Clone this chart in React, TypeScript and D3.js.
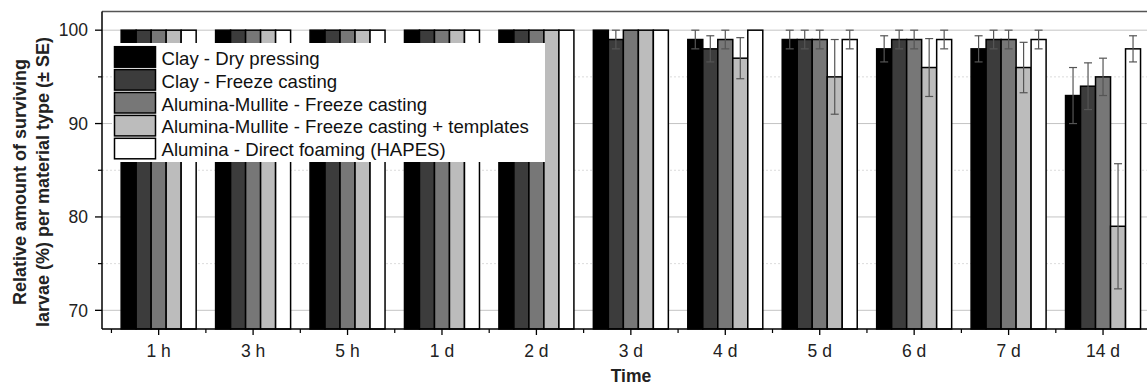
import React from 'react';
import * as d3 from 'd3';

const categories = ['1 h', '3 h', '5 h', '1 d', '2 d', '3 d', '4 d', '5 d', '6 d', '7 d', '14 d'];
const seriesNames = [
  'Clay - Dry pressing',
  'Clay - Freeze casting',
  'Alumina-Mullite - Freeze casting',
  'Alumina-Mullite - Freeze casting + templates',
  'Alumina - Direct foaming (HAPES)',
];
const seriesColors = ['#000000', '#3c3c3c', '#777777', '#bcbcbc', '#ffffff'];

// mean survival (%) per time point
const clayDry = [100, 100, 100, 100, 100, 100, 99, 99, 98, 98, 93];
const clayFreeze = [100, 100, 100, 100, 100, 99, 98, 99, 99, 99, 94];
const amFreeze = [100, 100, 100, 100, 100, 100, 99, 99, 99, 99, 95];
const amTemplates = [100, 100, 100, 100, 100, 100, 97, 95, 96, 96, 79];
const aluminaFoam = [100, 100, 100, 100, 100, 100, 100, 99, 99, 99, 98];

// standard errors
const clayDrySE = [0, 0, 0, 0, 0, 0, 1, 1, 1.4, 1.4, 3];
const clayFreezeSE = [0, 0, 0, 0, 0, 1, 1.4, 1, 1, 1, 2.5];
const amFreezeSE = [0, 0, 0, 0, 0, 0, 1, 1, 1, 1, 2];
const amTemplatesSE = [0, 0, 0, 0, 0, 0, 2.2, 4, 3.1, 2.7, 6.7];
const aluminaFoamSE = [0, 0, 0, 0, 0, 0, 0, 1, 1, 1, 1.4];

const yMajor = [70, 80, 90, 100];
const yMinor = [75, 85, 95];

const values = [clayDry, clayFreeze, amFreeze, amTemplates, aluminaFoam];
const errors = [clayDrySE, clayFreezeSE, amFreezeSE, amTemplatesSE, aluminaFoamSE];

const W = 1147;
const H = 386;
const left = 102;
const right = 1159.7;
const top = 11.5;
const bottom = 329;

const App: React.FC = () => {
  const x = d3.scaleLinear().domain([-0.6, categories.length - 0.4]).range([left, right]);
  const y = d3.scaleLinear().domain([68, 102]).range([bottom, top]);
  const inner = d3.scaleBand<string>().domain(seriesNames).range([-37.5, 37.5]).padding(0);
  const bw = inner.bandwidth();
  const step = x(1) - x(0);

  const font = 'Arial, "Liberation Sans", Helvetica, sans-serif';

  return (
    <svg
      width={W}
      height={H}
      style={{ position: 'absolute', left: 0, top: 0, background: '#fff' }}
      fontFamily={font}
    >
      {/* grid */}
      {yMajor.map(v => (
        <line key={'g' + v} x1={left} x2={right} y1={y(v)} y2={y(v)} stroke="#c4c4c4" strokeWidth={1} />
      ))}
      {yMinor.map(v => (
        <line key={'m' + v} x1={left} x2={right} y1={y(v)} y2={y(v)} stroke="#dcdcdc" strokeWidth={1} strokeDasharray="2,2" />
      ))}

      {/* bars */}
      {values.map((vals, s) =>
        vals.map((v, i) => (
          <rect
            key={`b${s}-${i}`}
            x={x(i) + (inner(seriesNames[s]) as number)}
            y={y(v)}
            width={bw}
            height={bottom - y(v)}
            fill={seriesColors[s]}
            stroke="#000"
            strokeWidth={1.5}
          />
        ))
      )}

      {/* error bars */}
      {values.map((vals, s) =>
        vals.map((v, i) => {
          const e = errors[s][i];
          if (!e) return null;
          const cx = x(i) + (inner(seriesNames[s]) as number) + bw / 2;
          const y1 = y(Math.min(v + e, 102));
          const y2 = y(v - e);
          return (
            <g key={`e${s}-${i}`} stroke="#555" strokeWidth={1.2}>
              <line x1={cx} x2={cx} y1={y1} y2={y2} />
              <line x1={cx - 4} x2={cx + 4} y1={y1} y2={y1} />
              <line x1={cx - 4} x2={cx + 4} y1={y2} y2={y2} />
            </g>
          );
        })
      )}

      {/* frame */}
      <line x1={left} x2={right} y1={top} y2={top} stroke="#555" strokeWidth={1.5} />
      <line x1={left} x2={left} y1={top} y2={bottom} stroke="#000" strokeWidth={1.5} />
      <line x1={left} x2={right} y1={bottom} y2={bottom} stroke="#000" strokeWidth={1.5} />

      {/* y axis */}
      {yMajor.map(v => (
        <g key={'yt' + v}>
          <line x1={left - 7} x2={left} y1={y(v)} y2={y(v)} stroke="#000" strokeWidth={1.3} />
          <text x={88} y={y(v)} dy="0.36em" textAnchor="end" fontSize={17.5} fill="#222">
            {v}
          </text>
        </g>
      ))}
      {yMinor.map(v => (
        <line key={'ym' + v} x1={left - 4} x2={left} y1={y(v)} y2={y(v)} stroke="#000" strokeWidth={1.2} />
      ))}

      {/* x axis */}
      {categories.map((c, i) => (
        <g key={'xt' + c}>
          <line x1={x(i)} x2={x(i)} y1={bottom} y2={bottom + 6} stroke="#000" strokeWidth={1.3} />
          <line x1={x(i) - step / 2} x2={x(i) - step / 2} y1={bottom} y2={bottom + 4} stroke="#000" strokeWidth={1.2} />
          <text x={x(i)} y={357} textAnchor="middle" fontSize={17.5} fill="#222">
            {c}
          </text>
        </g>
      ))}

      {/* titles */}
      <text x={631} y={382} textAnchor="middle" fontSize={17.5} fontWeight="bold" fill="#222">
        Time
      </text>
      <g transform="translate(0,182) rotate(-90)" fontSize={18} fontWeight="bold" fill="#222" textAnchor="middle">
        <text x={0} y={26}>Relative amount of surviving</text>
        <text x={0} y={49}>larvae (%) per material type (± SE)</text>
      </g>

      {/* legend */}
      <rect x={112} y={43} width={433} height={119} fill="#fff" />
      {seriesNames.map((n, s) => {
        const ry = 46.7 + s * 22.9;
        return (
          <g key={'l' + s}>
            <rect x={114.5} y={ry} width={41} height={20.5} fill={seriesColors[s]} stroke="#000" strokeWidth={1.5} />
            <text x={161.5} y={ry + 18} fontSize={18.6} fill="#111">
              {n}
            </text>
          </g>
        );
      })}
    </svg>
  );
};

export default App;
